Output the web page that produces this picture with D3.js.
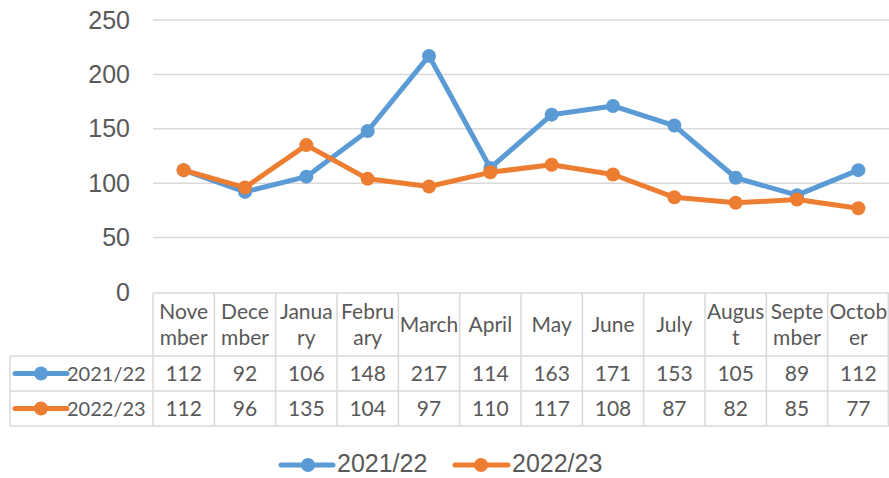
<!DOCTYPE html>
<html><head><meta charset="utf-8">
<script src="https://cdn.jsdelivr.net/npm/d3@7"></script>
<style>body{margin:0;background:#fff}svg{display:block}</style>
</head><body>
<svg id="c" width="889" height="478"></svg>
<script>
const categories = ["Nove|mber","Dece|mber","Janua|ry","Febru|ary","March","April","May","June","July","Augus|t","Septe|mber","Octob|er"];
const seriesNames = ["2021/22","2022/23"];
const series2122 = [112,92,106,148,217,114,163,171,153,105,89,112];
const series2223 = [112,96,135,104,97,110,117,108,87,82,85,77];
const yTicks = [0,50,100,150,200,250];
const colors = ["#5B9BD5","#ED7D31"];
const seriesData = [series2122, series2223];

(function(){
const svg = d3.select("#c");
const pL = 153, pR = 889, pT = 20, pB = 292;
const x = d3.scaleBand().domain(categories).range([pL,pR]);
const y = d3.scaleLinear().domain([0,250]).range([pB,pT]);
const txt = "#595959", grid = "#D9D9D9";

svg.append("g").selectAll("line").data(yTicks.filter(d=>d>0)).join("line")
  .attr("x1",pL).attr("x2",pR).attr("y1",d=>y(d)).attr("y2",d=>y(d))
  .attr("stroke",grid).attr("stroke-width",1.5);

const yAxis = svg.append("g").attr("transform",`translate(${pL},0)`)
  .call(d3.axisLeft(y).tickValues(yTicks).tickSize(0).tickPadding(23));
yAxis.select(".domain").remove();
yAxis.selectAll("text").attr("font-family","Liberation Sans, Arial, sans-serif")
  .attr("font-size",25).attr("fill",txt);

const rowTop = 293, hdrBot = 356, r1Bot = 391, r2Bot = 426, tblLeft = 10;
const tg = svg.append("g").attr("stroke",grid).attr("stroke-width",1.5);
tg.append("line").attr("x1",pL).attr("x2",pR).attr("y1",rowTop).attr("y2",rowTop);
[hdrBot,r1Bot,r2Bot].forEach(v=>tg.append("line").attr("x1",tblLeft).attr("x2",pR).attr("y1",v).attr("y2",v));
tg.append("line").attr("x1",tblLeft).attr("x2",tblLeft).attr("y1",hdrBot).attr("y2",r2Bot);
categories.forEach(c=>tg.append("line").attr("x1",x(c)).attr("x2",x(c)).attr("y1",rowTop).attr("y2",r2Bot));
tg.append("line").attr("x1",pR-0.75).attr("x2",pR-0.75).attr("y1",rowTop).attr("y2",r2Bot);

const tf = "Lato, 'Open Sans', sans-serif";
const fs = 21;
categories.forEach(c=>{
  const lines = c.split("|");
  const cx = x(c)+x.bandwidth()/2;
  const mid = (rowTop+hdrBot)/2;
  const lh = 26;
  lines.forEach((ln,i)=>{
    svg.append("text").attr("x",cx).attr("y",mid + (i-(lines.length-1)/2)*lh)
      .attr("dy","0.35em").attr("text-anchor","middle")
      .attr("font-family",tf).attr("font-size",fs).attr("fill",txt).text(ln);
  });
});
const rowMids = [(hdrBot+r1Bot)/2,(r1Bot+r2Bot)/2];
seriesData.forEach((s,si)=>{
  s.forEach((v,i)=>{
    svg.append("text").attr("x",x(categories[i])+x.bandwidth()/2).attr("y",rowMids[si])
      .attr("dy","0.35em").attr("text-anchor","middle")
      .attr("font-family",tf).attr("font-size",fs).attr("fill",txt).text(v);
  });
  const ky = rowMids[si];
  svg.append("line").attr("x1",15).attr("x2",67).attr("y1",ky).attr("y2",ky)
    .attr("stroke",colors[si]).attr("stroke-width",5).attr("stroke-linecap","round");
  svg.append("circle").attr("cx",41).attr("cy",ky).attr("r",7).attr("fill",colors[si]);
  svg.append("text").attr("x",67).attr("y",ky).attr("dy","0.35em")
    .attr("font-family",tf).attr("font-size",20).attr("fill",txt).text(seriesNames[si]);
});

const line = d3.line().x((d,i)=>x(categories[i])+x.bandwidth()/2).y(d=>y(d));
seriesData.forEach((s,si)=>{
  const g = svg.append("g");
  g.append("path").datum(s).attr("d",line).attr("fill","none")
    .attr("stroke",colors[si]).attr("stroke-width",5).attr("stroke-linejoin","round").attr("stroke-linecap","round");
  g.selectAll("circle").data(s).join("circle")
    .attr("cx",(d,i)=>x(categories[i])+x.bandwidth()/2).attr("cy",d=>y(d))
    .attr("r",7).attr("fill",colors[si]);
});

const leg = [{x0:281,x1:333,mx:308,tx:337},{x0:455,x1:508,mx:481,tx:512}];
const ly = 465;
leg.forEach((L,si)=>{
  svg.append("line").attr("x1",L.x0).attr("x2",L.x1).attr("y1",ly).attr("y2",ly)
    .attr("stroke",colors[si]).attr("stroke-width",5).attr("stroke-linecap","round");
  svg.append("circle").attr("cx",L.mx).attr("cy",ly).attr("r",7).attr("fill",colors[si]);
  svg.append("text").attr("x",L.tx).attr("y",472)
    .attr("font-family","Liberation Sans, Arial, sans-serif").attr("font-size",25)
    .attr("fill",txt).text(seriesNames[si]);
});
})();
</script>
</body></html>
